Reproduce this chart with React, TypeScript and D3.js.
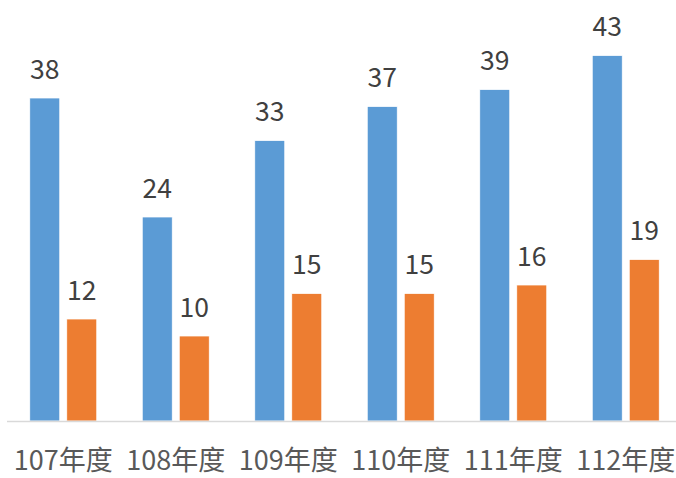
import React from "react";
import * as d3 from "d3";

const categories = ["107年度", "108年度", "109年度", "110年度", "111年度", "112年度"];
const seriesA = [38, 24, 33, 37, 39, 43];
const seriesB = [12, 10, 15, 15, 16, 19];
const seriesColors = ["#5B9BD5", "#ED7D31"];

const W = 676;
const H = 478;
const FONT = "'Noto Sans CJK TC', 'Noto Sans', sans-serif";

export default function App() {
  const x = d3.scaleBand<string>().domain(categories).range([7, 682]).paddingInner(0).paddingOuter(0);
  const inner = d3.scaleBand<number>().domain([0, 1]).range([-33.5, 33.5]).paddingInner(0.189).paddingOuter(0);
  const y = d3.scaleLinear().domain([0, 45]).range([421, 421 - 45 * 8.5]);
  const series = [seriesA, seriesB];

  return (
    <svg width={W} height={H} style={{ position: "absolute", left: 0, top: 0, background: "#fff" }} fontFamily={FONT}>
      {series.map((vals, si) =>
        vals.map((v, i) => {
          const cx = (x(categories[i]) as number) + x.bandwidth() / 2;
          const bx = cx + (inner(si) as number);
          const bw = inner.bandwidth();
          return (
            <g key={`${si}-${i}`}>
              <rect x={bx} y={y(v)} width={bw} height={y(0) - y(v)} fill={seriesColors[si]} stroke="#fff" strokeWidth={0.75} />
              <text x={bx + bw / 2} y={y(v) - 19.5} textAnchor="middle" fontSize={26.5} fill="#404040">
                {v}
              </text>
            </g>
          );
        })
      )}
      <line x1={7} x2={W} y1={421.5} y2={421.5} stroke="#D9D9D9" strokeWidth={1.5} />
      {categories.map((c) => (
        <text key={c} x={(x(c) as number) + x.bandwidth() / 2} y={470} textAnchor="middle" fontSize={27} fill="#595959">
          {c}
        </text>
      ))}
    </svg>
  );
}
